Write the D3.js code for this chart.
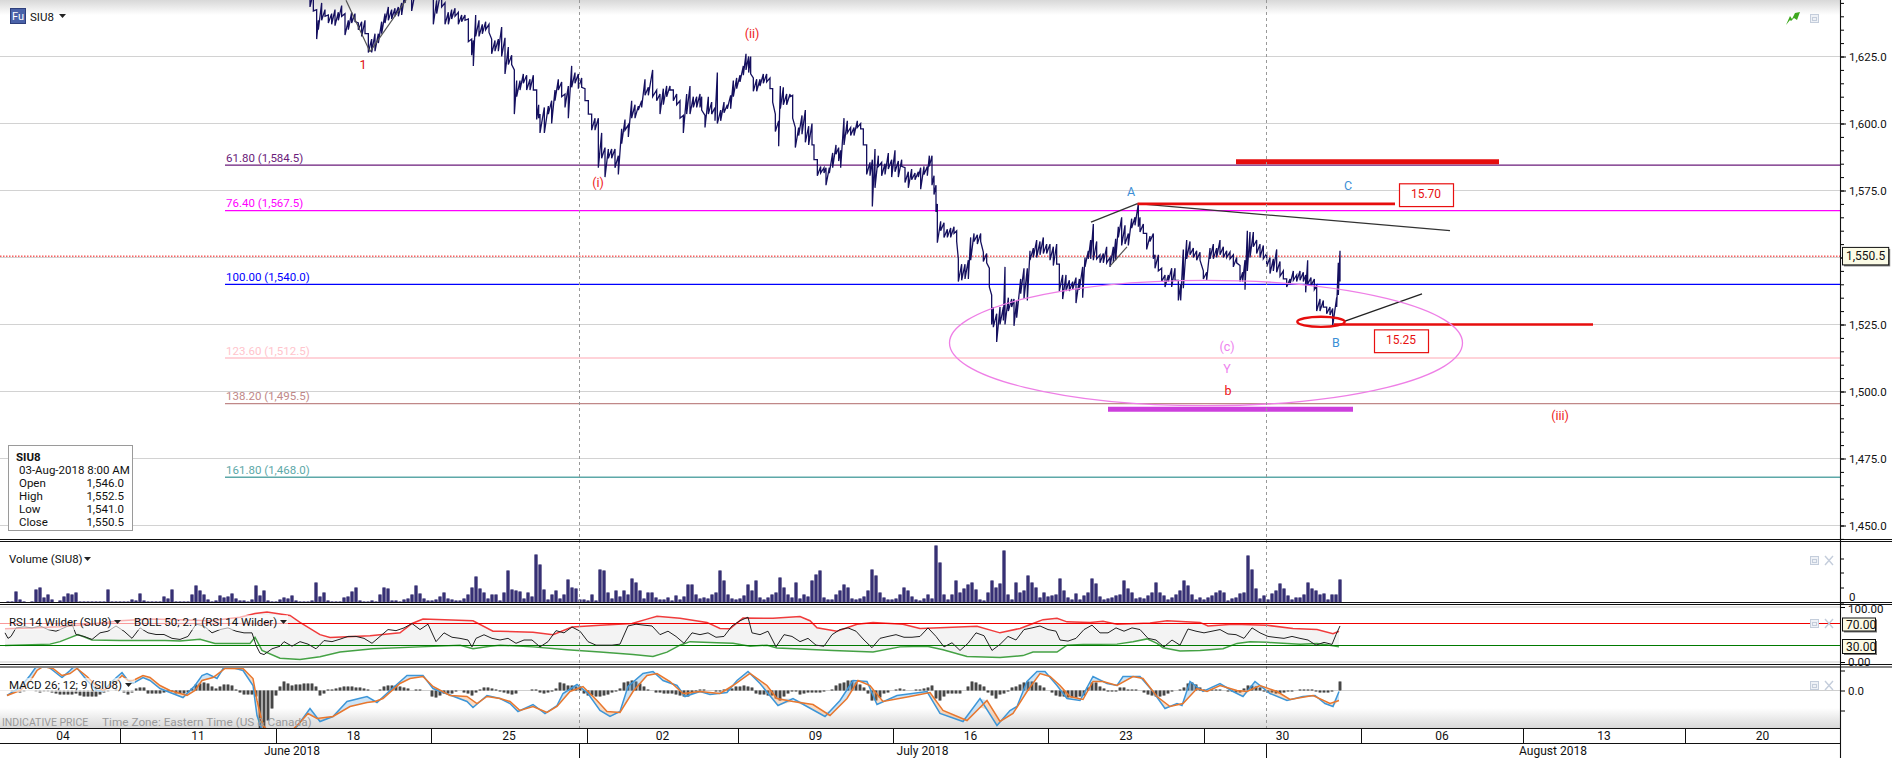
<!DOCTYPE html>
<html lang="en">
<head>
  <meta charset="UTF-8">
  <title>SIU8 chart</title>
  <script src="https://d3js.org/d3.v7.min.js"></script>
  <style>
    body, html { margin: 0; background: #fff; overflow: hidden; }
    svg { display: block; font-family: Roboto, sans-serif; font-size: 11.5px; }
    text { fill: #111; }
  </style>
</head>
<body>
<svg id="chart" width="1892" height="758"></svg>
<script>
  // price bars: [tick, low, high], ticks run 3 to a slot and start at slot 300
  const priceBars = [
    [30,1643.5,1649],[40,1642,1649],[50,1631.5,1642.5],[55,1635,1638.5],[65,1638.5,1645],[75,1640,1642.5],[85,1637.5,1640.5],[95,1637,1641],[105,1636.5,1642.5],[115,1638.5,1641.5],
    [125,1640,1644],[135,1633,1641],[145,1635,1638.5],[155,1637.5,1641.5],[165,1638,1641],[175,1635,1637.5],[185,1632.5,1638],[195,1633.5,1638.5],[205,1626.5,1633.5],[215,1626.5,1631.5],
    [225,1627,1633.5],[235,1630,1633.5],[245,1633.5,1638],[255,1637.5,1641],[265,1638.5,1643.5],[275,1639,1642.5],[285,1640,1643],[295,1640,1643.5],[305,1640.5,1645],[315,1645,1649],
    [325,1648,1652],[335,1642,1651],[355,1650,1655],[375,1650,1654],[400,1637,1651],[410,1641,1646],[425,1643.5,1651],[435,1637,1645],[445,1637,1641.5],[455,1639,1642.5],
    [465,1640,1643],[475,1637,1641.5],[485,1638,1640.5],[495,1638.5,1640.5],[505,1630.5,1639],[515,1625.5,1631.5],[520,1621.5,1631],[527,1632.5,1640.5],[537,1632.5,1638.5],[547,1633.5,1637],
    [557,1635,1638],[567,1634,1637],[575,1626,1631.5],[585,1627,1631],[595,1627,1631.5],[605,1625,1636],[615,1618.5,1632],[625,1622,1628.5],[635,1622,1625.5],[643,1603.5,1620],
    [650,1610,1616],[660,1612.5,1616],[670,1615,1618.5],[680,1612.5,1618],[690,1612.5,1616.5],[700,1612.5,1618],[710,1601.5,1612.5],[716,1602,1607],[720,1596.5,1603.5],[733,1596.5,1606],
    [745,1603.5,1606.5],[755,1600,1608.5],[765,1608.5,1612.5],[775,1612.5,1616.5],[785,1610,1615.5],[795,1606,1611],[805,1602,1614],[815,1613.5,1621.5],[825,1615,1619],[835,1613,1618.5],
    [845,1613.5,1617],[855,1608.5,1613],[865,1603.5,1608.5],[875,1597.5,1603.5],[885,1597.5,1602],[895,1583.5,1602],[905,1587,1596.5],[915,1580,1591],[925,1587,1590.5],[935,1587,1590.5],
    [945,1583.5,1590.5],[955,1581,1588],[965,1592.5,1598],[975,1597.5,1601.5],[985,1595,1599.5],[995,1602,1608.5],[1005,1602,1607],[1015,1605,1606.5],[1025,1606,1608.5],[1035,1610.5,1616.5],
    [1045,1610.5,1613.5],[1058,1610,1620],[1070,1608.5,1612.5],[1080,1603.5,1611],[1090,1607,1613],[1100,1610,1614],[1110,1612.5,1614],[1120,1608.5,1612.5],[1130,1607,1611],[1140,1602,1608.5],
    [1150,1596.5,1603],[1160,1603.5,1611],[1170,1603.5,1614],[1180,1606,1610],[1190,1606,1610],[1200,1606,1611],[1205,1605,1610],[1215,1598.5,1603],[1225,1603.5,1610],[1235,1603.5,1608],
    [1245,1601,1606],[1252,1600,1619],[1262,1601,1605],[1272,1604,1608],[1282,1605.5,1607],[1292,1605.5,1610.5],[1300,1610,1616],[1310,1613,1617],[1320,1615.5,1618],[1330,1618,1621.5],
    [1338,1620,1626],[1346,1619,1625],[1352,1618.5,1625],[1360,1612,1617],[1370,1612,1616.5],[1380,1614,1616.5],[1390,1615,1618.5],[1400,1615.5,1618.5],[1410,1613,1617],[1418,1608,1613],
    [1426,1597,1603.5],[1436,1591.5,1601],[1441,1605.5,1614],[1450,1607,1613.5],[1460,1607,1611],[1470,1610,1611],[1478,1602,1610.5],[1486,1591,1598.5],[1496,1595.5,1598.5],[1506,1596,1603],
    [1516,1593,1605],[1526,1592,1599],[1536,1592,1600],[1542,1586.5,1592],[1552,1580.5,1586.5],[1562,1581.5,1584],[1572,1581.5,1583.5],[1578,1577,1583.5],[1588,1581.5,1583.5],[1598,1583.5,1589],
    [1608,1588.5,1592],[1616,1586,1591],[1622,1583.5,1590],[1632,1592,1602],[1642,1596.5,1601],[1652,1595.5,1598.5],[1662,1595.5,1598.5],[1672,1598.5,1601],[1682,1598,1600],[1690,1592,1598],
    [1700,1581,1592],[1710,1580.5,1585.5],[1717,1569,1586.5],[1725,1576,1590.5],[1735,1584,1588],[1745,1580.5,1585.5],[1755,1581,1585],[1765,1583,1589],[1775,1580,1586.5],[1785,1582,1590],
    [1795,1580,1586],[1805,1584,1586.5],[1815,1578,1583.5],[1825,1576,1582],[1835,1579,1583],[1845,1579,1581.5],[1855,1580,1582],[1862,1575.5,1583.5],[1872,1581,1584],[1882,1580.5,1584],
    [1888,1584,1588],[1896,1577,1588],[1902,1573.5,1580.5],[1908,1567,1577],[1912,1555.5,1570],[1922,1560,1563.5],[1932,1557.5,1563],[1942,1557.5,1560.5],[1952,1557.5,1561],[1962,1559,1561.5],
    [1970,1556,1560],[1975,1541,1549.5],[1985,1541.5,1547.5],[1995,1542,1547.5],[2005,1542,1549],[2012,1549,1557.5],[2022,1556,1559],[2032,1555,1558.5],[2042,1556,1559],[2050,1548.5,1552],
    [2060,1548,1551.5],[2068,1539,1546],[2075,1525,1536],[2080,1524,1531.5],[2090,1518.5,1529],[2100,1525,1531.5],[2110,1526.5,1531.5],[2115,1525,1546.5],[2125,1530,1535],[2135,1531.5,1534.5],
    [2142,1524.5,1534.5],[2150,1527.5,1534],[2162,1536.5,1542],[2172,1534.5,1546],[2182,1534,1546],[2190,1549,1552.5],[2200,1550,1553.5],[2210,1550,1556.5],[2220,1551,1556],[2230,1551.5,1557.5],
    [2240,1551.5,1555],[2250,1549,1555],[2260,1547,1554],[2270,1547.5,1555],[2278,1537.5,1547.5],[2288,1534.5,1543.5],[2298,1537.5,1543.5],[2308,1537.5,1541.5],[2318,1538,1541],[2328,1533,1542.5],
    [2338,1538,1542],[2348,1535,1546.5],[2355,1546.5,1550],[2365,1549.5,1552.5],[2372,1549.5,1556.5],[2380,1549,1562.5],[2390,1549.5,1556],[2400,1548,1551],[2410,1548,1551.5],[2420,1548,1554],
    [2430,1546.5,1550],[2440,1548,1554],[2447,1549,1557],[2455,1557.5,1561.5],[2465,1554.5,1565],[2475,1555,1562],[2485,1554.5,1559],[2495,1561,1564.5],[2505,1562,1565],[2515,1561.5,1570],
    [2520,1559.5,1565],[2530,1559,1562.5],[2540,1553,1559],[2550,1556,1558],[2560,1549.5,1559],[2565,1546,1551],[2575,1545,1551],[2585,1541,1546],[2595,1539,1543.5],[2605,1541,1543.5],
    [2615,1539,1546],[2625,1541.5,1546],[2635,1534,1541.5],[2642,1534,1540],[2650,1538.5,1553],[2660,1549.5,1556.5],[2670,1551,1556],[2680,1550,1553.5],[2690,1549,1552.5],[2700,1549,1552],
    [2710,1542,1545],[2720,1541.5,1544.5],[2730,1549.5,1553.5],[2740,1549.5,1555],[2750,1550,1553.5],[2760,1551,1556.5],[2770,1550,1554],[2780,1550,1552.5],[2790,1549.5,1552],[2800,1546.5,1551],
    [2810,1548,1550],[2820,1541,1547],[2828,1541,1544.5],[2835,1538,1549],[2842,1545,1560],[2850,1550,1559.5],[2860,1554,1559.5],[2870,1551.5,1556.5],[2880,1550,1555],[2890,1549.5,1554.5],
    [2900,1546.5,1551.5],[2910,1544,1550],[2920,1545,1549.5],[2930,1544.5,1553],[2940,1543,1548.5],[2950,1542,1545],[2960,1539,1542],[2970,1540,1542],[2980,1541.5,1545],[2990,1541,1543.5],
    [3000,1541.5,1545],[3010,1541,1544.5],[3017,1537,1543.5],[3023,1540,1549],[3033,1539.5,1542.5],[3043,1538,1542],[3050,1530,1539.5],[3060,1530,1534.5],[3070,1531.5,1534],[3080,1529,1531.5],
    [3090,1528.5,1531.5],[3098,1524.5,1531],[3110,1531.5,1535],[3115,1536,1548],[3120,1541,1552.5]
  ];

  // one volume and one histogram value every 4 slots, starting at slot 8
  const volumeValues = [
    1,1,11,3,1,0,1,13,15,5,8,3,0,2,6,9,8,10,1,1,1,1,1,1,1,13,1,1,1,
    1,1,3,2,9,2,1,1,1,1,6,4,13,1,1,1,1,8,17,12,8,3,1,2,7,5,6,9,4,2,
    2,1,3,17,7,12,2,1,1,3,5,4,7,2,1,1,1,2,20,6,10,2,1,1,1,5,6,11,15,2,
    1,1,2,1,8,15,14,2,2,1,3,4,8,17,9,4,2,2,3,6,10,4,3,2,2,4,8,15,26,14,
    10,4,8,8,
    2,10,32,13,12,11,4,10,6,48,38,13,3,8,12,4,8,23,15,14,3,3,2,8,2,33,32,10,4,12,6,12,8,24,20,12,4,10,10,5,
    3,3,5,2,7,3,6,18,18,8,4,5,4,8,10,32,22,8,4,3,4,7,18,12,22,5,3,5,8,10,25,15,8,5,20,4,8,6,22,28,
    32,5,3,3,8,12,18,15,4,3,4,6,12,33,27,10,5,3,3,4,8,15,12,6,3,2,4,8,4,57,40,8,3,8,22,10,14,18,20,13,
    3,2,10,22,15,
    19,52,8,3,20,10,12,27,20,15,5,10,6,7,8,24,12,5,3,9,3,7,10,24,19,6,3,4,5,7,8,22,14,10,4,5,4,7,10,20,
    10,7,3,5,8,12,22,17,8,3,5,3,5,7,10,12,10,2,4,5,9,10,47,33,14,4,7,3,9,12,19,14,7,3,5,5,8,20,14,12,
    8,9,3,8,8,23
  ];
  const macdHist = [
    0,-1,-1,-2,-1,0,0,-1,-2,-1,-1,-2,-3,-4,-4,-4,-4,-3,-5,-6,-6,-6,-6,-4,-2,-1,0,1,0,
    -2,-4,-2,2,3,3,-3,-3,-3,-3,-2,-1,-1,-3,-3,-3,-2,2,6,7,8,7,4,2,4,6,6,5,1,-2,
    -4,-4,-4,-6,-38,-38,-30,-18,-5,4,9,7,5,6,6,7,7,7,4,-5,-3,1,1,2,3,4,4,4,3,3,
    2,1,0,0,1,4,5,5,5,4,3,2,0,1,1,0,0,-6,-7,-5,-3,-3,-3,-1,0,-2,-3,-5,-2,1,
    3,3,2,1,
    -1,-2,-3,-4,-3,0,0,0,1,1,-2,-3,-2,-1,2,8,7,5,5,4,4,-3,-5,-5,-6,-6,-5,-4,-2,-1,2,8,9,10,9,7,4,1,0,-2,
    -2,-3,-3,-3,-4,-5,-6,-6,-3,-1,1,1,0,0,-1,-1,1,1,2,4,4,5,4,3,-3,-4,-4,-5,-5,-8,-10,-6,-3,-1,-1,-4,-3,-2,-2,-2,
    -2,-1,0,1,5,7,8,10,10,8,6,3,-3,-10,-10,-7,-3,-2,0,1,2,1,0,0,1,1,2,3,5,-8,-10,-6,-3,-3,-3,-3,0,4,9,8,
    6,4,-2,-5,-8,
    -4,-3,-1,3,4,6,8,9,9,8,5,3,0,-2,-5,-6,-6,-7,-7,-7,-6,-5,3,8,8,4,2,-1,-1,-1,3,3,1,1,1,0,-2,-4,-5,-6,
    -6,-5,-3,-1,0,1,3,7,8,6,3,1,0,1,1,1,0,-1,-1,-2,-2,2,5,5,4,3,-1,-2,-2,-3,-3,-2,-1,-1,0,1,1,1,1,-1,
    -2,-2,-2,-1,0,9
  ];

  const rsiLine = [
    [5,53],[8,43],[11,46.5],[16,62],[24,64],[32,62],[40,65.5],[48,59],[56,56],[64,62],[72,68.7],[76,50],[84,46.5],[92,41],[100,53],[108,56],[116,65.5],[124,56],[132,43],[140,62],
    [148,53],[156,50],[164,50],[172,43],[180,41],[188,46.5],[196,68.7],[204,65.5],[212,53],[220,59],[228,62],[236,56],[244,53],[252,53],[256,30.5],[260,16],[264,13.5],[272,24],[280,28.7],[284,37],
    [292,28.7],[300,37],[308,32.5],[316,24],[324,39],[332,37],[340,41.5],[348,46.5],[356,46.5],[364,43],[372,34],[380,46.5],[388,59],[396,57],[404,62],[412,70],[420,59],[428,68.7],[436,37],[444,53],
    [452,45],[460,43],[468,40],[472,27.5],[476,43],[484,49.5],[492,43],[500,40],[508,43],[516,34],[524,40],[532,40],[540,27.5],[548,37],[556,57],[564,53],[572,63.6],[580,56],[588,37],[596,30.6],
    [604,30.6],[612,30.6],[620,32.5],[628,65.5],[636,68.7],[644,67],[652,65.5],[660,49.7],[668,56],[676,46.5],[684,34],[692,53],[700,49.7],[708,53],[716,45],[724,46.5],[732,65.5],[740,75],[748,81.5],[752,53],
    [760,49.7],[768,56],[776,27.5],[784,49.7],[792,46.5],[800,37],[808,43],[816,30.6],[824,28.7],[832,49.7],[840,59],[848,62],[856,56],[864,40],[872,26],[880,43],[888,46.5],[896,49.7],[904,45],[912,45],
    [920,46.5],[928,62],[936,46.5],[944,27.5],[952,35],[960,21],[968,34],[976,53],[984,47.8],[992,21],[1000,32],[1008,46.5],[1016,40],[1024,59],[1032,62],[1040,65.5],[1048,59],[1056,56],[1060,40],[1068,38],
    [1076,43],[1084,59],[1092,67],[1100,53],[1108,53],[1116,62],[1124,56],[1132,62],[1140,59],[1148,43],[1156,40],[1164,27.5],[1172,40],[1180,30.6],[1188,60],[1196,56],[1204,53],[1212,56],[1220,59],[1228,51],
    [1236,49.7],[1244,43],[1252,62],[1260,53],[1268,46.5],[1276,44.6],[1284,43],[1292,46.5],[1300,43],[1308,40],[1316,30.6],[1324,35.7],[1332,32],[1336,49.7],[1340,65.5]
  ];
  const bollUpper = [
    [5,60.5],[30,62],[60,64],[90,68.7],[120,75],[150,78],[180,77],[210,75],[240,81.5],[255,88],[267,91],[290,84.6],[300,72],[320,49.7],[330,44.6],[370,47.8],[400,53],[412,70],[423,78],[473,75],[493,56],
    [500,56],[533,54],[553,49.7],[572,63.6],[600,66.8],[632,70],[647,78],[657,83],[680,79.5],[707,72],[720,61],[730,60.5],[743,80],[773,79.5],[800,82.7],[810,75],[817,62.4],[837,56],[857,68.7],[873,72],
    [903,68.7],[920,61],[940,62.4],[977,65],[1000,53],[1020,61],[1033,70],[1043,77],[1057,79.5],[1067,73],[1090,72],[1103,74],[1117,68.7],[1150,71],[1167,75],[1200,72],[1208,65.5],[1233,68.7],[1267,66.8],
    [1293,61],[1317,59],[1333,51.6],[1339,56]
  ];
  const bollLower = [
    [5,30],[50,32.5],[60,37],[78,49.7],[92,40],[120,39],[165,39],[180,38],[200,41.4],[215,33.8],[250,33.8],[255,45],[262,21],[280,7],[300,4.6],[320,9.7],[340,18],[373,24],[420,27.5],[460,30.6],[473,24],[490,28.7],
    [500,30.6],[533,27.5],[567,22.4],[600,18],[633,13.5],[653,10],[667,18],[680,30.6],[690,37],[717,35],[733,34],[750,28.7],[767,30.6],[777,25.6],[800,23.7],[833,21],[873,18],[900,27.5],[927,28.7],[943,22.4],
    [967,10],[1000,8.4],[1023,11.6],[1033,18],[1057,18],[1067,30.6],[1083,32],[1117,32.5],[1133,37],[1147,42],[1157,33.8],[1163,26],[1180,20],[1200,21],[1223,24],[1237,33.8],[1250,37],[1267,35.7],[1300,32.5],
    [1317,33.8],[1333,29.4],[1339,27.5]
  ];

  const macdBlue = [
    [7,-5],[20,3],[30,15],[37,25],[43,28],[53,20],[62,13],[70,20],[75,25],[87,10],[97,0],[103,-1],[113,10],[122,18],[128,10],[133,7],[143,13],[150,10],[160,2],[170,-2],[183,-7],[195,5],[202,15],[207,17],[217,12],
    [225,25],[243,20],[253,5],[257,-25],[262,-40],[285,-45],[297,-36],[310,-18],[320,-31],[333,-26],[347,-11],[367,-6],[377,-12],[390,0],[407,15],[423,15],[433,2],[467,-11],[473,-17],[487,-5],
    [500,-8],[510,-13],[518,-21],[533,-14],[545,-23],[557,-15],[563,-3],[577,6],[588,-3],[600,-20],[610,-26],[620,-21],[628,4],[643,17],[653,19],[663,10],[677,5],[685,-6],[700,-1],[710,-4],[727,-2],[737,10],
    [748,19],[760,7],[778,-15],[793,-8],[807,-16],[825,-26],[840,-10],[853,10],[867,9],[877,-14],[897,-5],[927,-1],[940,-23],[963,-31],[980,-8],[997,-35],
    [1010,-20],[1017,-16],[1027,9],[1037,19],[1045,19],[1057,5],[1067,-8],[1080,-10],[1093,14],[1107,7],[1117,5],[1123,14],[1140,14],[1153,-1],[1165,-18],[1177,-13],[1182,-15],[1190,9],[1203,-1],[1220,7],
    [1233,-1],[1243,-6],[1255,9],[1270,-3],[1287,-10],[1303,-6],[1315,-5],[1325,-13],[1333,-16],[1339,-1]
  ];
  const macdOrange = [
    [7,-5],[20,0],[30,9],[37,20],[43,24],[53,22],[62,15],[70,17],[77,22],[87,14],[97,4],[103,0],[113,5],[122,15],[128,10],[133,10],[143,15],[150,13],[160,5],[170,0],[187,-5],[195,0],[202,10],[213,13],[225,22],
    [243,22],[253,12],[257,-10],[263,-35],[268,-40],[290,-42],[300,-32],[308,-23],[317,-28],[333,-26],[350,-16],[367,-12],[375,-11],[383,-8],[400,7],[410,12],[423,14],[433,4],[450,-5],[467,-6],[477,-13],[487,-6],
    [500,-8],[510,-11],[520,-20],[533,-16],[547,-22],[557,-16],[570,-1],[583,4],[597,-10],[607,-21],[620,-22],[633,-1],[647,15],[657,17],[670,9],[683,-3],[700,-1],[720,-3],[733,5],[750,17],[767,5],[777,-8],
    [793,-11],[813,-14],[830,-25],[847,-8],[858,10],[870,5],[883,-11],[910,-6],[930,-2],[943,-20],[967,-30],[987,-10],[1000,-31],
    [1013,-23],[1027,-1],[1040,17],[1050,14],[1060,5],[1070,-6],[1083,-9],[1093,9],[1103,9],[1117,5],[1133,14],[1143,12],[1157,-6],[1170,-16],[1183,-13],[1197,2],[1207,-1],[1220,5],[1237,0],[1247,-1],
    [1260,5],[1277,-1],[1290,-9],[1313,-5],[1330,-13],[1339,-10]
  ];

  const gridPrices = d3.range(1450, 1650, 25);
  const fibLevels = [61.8, 76.4, 100, 123.6, 138.2, 161.8];
  const fibPrices = [1584.5, 1567.5, 1540, 1512.5, 1495.5, 1468];
  const fibColors = ["#6a1b7a", "#ff00ff", "#0000ff", "#ffc4cc", "#c08888", "#5da8a8"];
  const fibStart = 225;
  const lastPrice = 1550.5;

  const weekLabels = ["04", "11", "18", "25", "02", "09", "16", "23", "30", "06", "13", "20"];
  const weekEdges = [6, 120, 276, 431, 587, 738, 893, 1048, 1204, 1361, 1523, 1685, 1840];
  const monthLabels = ["June 2018", "July 2018", "August 2018"];
  const monthEdges = [5, 579, 1266, 1840];

  const infoRows = [["Open", "1,546.0"], ["High", "1,552.5"], ["Low", "1,541.0"], ["Close", "1,550.5"]];

  // wave labels: [text, slot, price, colour]
  const waveLabels = [
    ["1", 363, 1621.5, "#e01010"], ["(i)", 598, 1577.5, "#ee2222"], ["(ii)", 752, 1633, "#ee2222"],
    ["A", 1131, 1574, "#3c8fd6"], ["C", 1348, 1576.5, "#3c8fd6"], ["B", 1336, 1518, "#3c8fd6"],
    ["(c)", 1227, 1516.5, "#ee82ee"], ["Y", 1227, 1508, "#ee82ee"], ["b", 1228, 1500, "#ee1111"],
    ["(iii)", 1560, 1490.5, "#ee2222"]
  ];
  // trend lines: [slot1, price1, slot2, price2, width, colour]
  const trendLines = [
    [346, 1646, 370, 1626.8, 1.2, "#555"], [370, 1626.8, 406, 1646, 1.2, "#555"],
    [1091, 1563.2, 1137.5, 1570.1, 1.3, "#333"], [1137.5, 1570.1, 1450, 1560, 1.3, "#333"],
    [1110, 1546.8, 1127, 1554, 1.2, "#555"], [1345, 1526.3, 1422, 1536.4, 1.3, "#222"],
    [1236, 1585.7, 1499, 1585.7, 5, "#e60d0d"], [1137.5, 1570, 1395, 1570, 2.6, "#e60d0d"],
    [1334, 1525, 1593, 1525, 2.6, "#e60d0d"], [1108, 1493.4, 1353, 1493.4, 5, "#cc3fdc"]
  ];
  // ellipses: [slot, price, slot radius, price radius, width, colour]
  const ellipses = [
    [1206, 1518.1, 256.5, 23.4, 1.3, "#ee7fe6"], [1321, 1526, 23.7, 1.9, 2.4, "#e60d0d"]
  ];
  // red note boxes: [text, slot1, slot2, price1, price2]
  const noteBoxes = [["15.70", 1399, 1453, 1577.5, 1569], ["15.25", 1374, 1428, 1523, 1514.5]];

  const svg = d3.select("#chart");
  const defs = svg.append("defs");

  const x = d3.scaleLinear().domain([0, 1840]).range([0, 1840]);
  const yPrice = d3.scaleLinear().domain([1625, 1450]).range([56.5, 525.5]);
  const yVol = d3.scaleLinear().domain([0, 62]).range([602.5, 540.5]);
  const yRsi = d3.scaleLinear().domain([0, 100]).range([662, 607]);
  const yMacd = d3.scaleLinear().domain([-38, 22]).range([728.5, 668.5]);
  const tickSlot = t => 300 + t / 3;

  const fadeTop = defs.append("linearGradient").attr("id", "fadeTop").attr("x2", 0).attr("y2", 1);
  fadeTop.append("stop").attr("offset", 0).attr("stop-color", "#d8d8d8");
  fadeTop.append("stop").attr("offset", 1).attr("stop-color", "#fff");
  const fadeBottom = defs.append("linearGradient").attr("id", "fadeBottom").attr("x2", 0).attr("y2", 1);
  fadeBottom.append("stop").attr("offset", 0).attr("stop-color", "#fff");
  fadeBottom.append("stop").attr("offset", 1).attr("stop-color", "#d8d8d8");

  const clipRect = (id, top, bottom) => defs.append("clipPath").attr("id", id)
          .append("rect").attr("x", 0).attr("y", top).attr("width", 1840).attr("height", bottom - top);
  clipRect("clipMain", 0, 538);
  clipRect("clipRsi", 605, 664);
  clipRect("clipMacd", 668, 728);

  svg.append("rect").attr("width", 1840).attr("height", 15).attr("fill", "url(#fadeTop)");
  svg.append("rect").attr("y", 708).attr("width", 1840).attr("height", 20).attr("fill", "url(#fadeBottom)");

  // ---- main panel ----
  const main = svg.append("g").attr("clip-path", "url(#clipMain)");

  main.selectAll(".grid").data(gridPrices).join("line")
          .attr("x1", 0).attr("x2", x(1840))
          .attr("y1", d => yPrice(d)).attr("y2", d => yPrice(d))
          .attr("stroke", "#d2d2d2").attr("stroke-width", 1);

  fibPrices.forEach((p, i) => {
    main.append("line")
            .attr("x1", x(fibStart)).attr("x2", x(1840))
            .attr("y1", yPrice(p)).attr("y2", yPrice(p))
            .attr("stroke", fibColors[i]).attr("stroke-width", 1.3);
    main.append("text")
            .attr("x", x(fibStart) + 1).attr("y", yPrice(p) - 3.5)
            .style("fill", fibColors[i]).style("font-size", "11.5px")
            .text(`${fibLevels[i].toFixed(2)} (${d3.format(",.1f")(p)})`);
  });

  main.append("line")
          .attr("x1", 0).attr("x2", x(1840))
          .attr("y1", yPrice(lastPrice)).attr("y2", yPrice(lastPrice))
          .attr("stroke", "#f01010").attr("stroke-width", 1).attr("stroke-dasharray", "1.5,1.5");

  // every bar runs high to low, then the line jumps to the next high
  const pricePoints = priceBars.flatMap(([t, lo, hi]) => [[tickSlot(t), hi], [tickSlot(t), lo]]);
  const priceLine = d3.line().x(d => x(d[0])).y(d => yPrice(d[1]));
  main.append("path").datum(pricePoints)
          .attr("d", priceLine)
          .attr("fill", "none").attr("stroke", "#15105f").attr("stroke-width", 1.3);

  main.selectAll(".trend").data(trendLines).join("line")
          .attr("x1", d => x(d[0])).attr("y1", d => yPrice(d[1]))
          .attr("x2", d => x(d[2])).attr("y2", d => yPrice(d[3]))
          .attr("stroke-width", d => d[4]).attr("stroke", d => d[5]);

  main.selectAll(".oval").data(ellipses).join("ellipse")
          .attr("cx", d => x(d[0])).attr("cy", d => yPrice(d[1]))
          .attr("rx", d => x(d[0] + d[2]) - x(d[0]))
          .attr("ry", d => yPrice(d[1] - d[3]) - yPrice(d[1]))
          .attr("fill", "none").attr("stroke-width", d => d[4]).attr("stroke", d => d[5]);

  main.selectAll(".wave").data(waveLabels).join("text")
          .attr("x", d => x(d[1])).attr("y", d => yPrice(d[2]))
          .attr("text-anchor", "middle").attr("dominant-baseline", "middle")
          .style("fill", d => d[3]).style("font-size", "12.5px").text(d => d[0]);

  noteBoxes.forEach(([label, s1, s2, p1, p2]) => {
    main.append("rect")
            .attr("x", x(s1) + 0.5).attr("y", yPrice(p1))
            .attr("width", x(s2) - x(s1)).attr("height", yPrice(p2) - yPrice(p1))
            .attr("fill", "#fff").attr("stroke", "#e81010").attr("stroke-width", 1.2);
    main.append("text")
            .attr("x", (x(s1) + x(s2)) / 2).attr("y", (yPrice(p1) + yPrice(p2)) / 2)
            .attr("text-anchor", "middle").attr("dominant-baseline", "middle")
            .style("fill", "#e81010").style("font-size", "12px").text(label);
  });

  // ---- volume ----
  const volume = svg.append("g");
  volumeValues.forEach((v, i) => {
    const s = 8 + i * 4;
    volume.append("rect")
            .attr("x", x(s) - 2).attr("y", yVol(v))
            .attr("width", 4).attr("height", yVol(0) - yVol(v))
            .attr("fill", "#79749f");
    volume.append("line")
            .attr("x1", x(s)).attr("x2", x(s))
            .attr("y1", yVol(v)).attr("y2", yVol(0))
            .attr("stroke", "#1a1464").attr("stroke-width", 1.4);
  });

  // ---- RSI ----
  const rsi = svg.append("g").attr("clip-path", "url(#clipRsi)");
  [100, 0].forEach(v => rsi.append("line")
          .attr("x1", 0).attr("x2", x(1840)).attr("y1", yRsi(v)).attr("y2", yRsi(v))
          .attr("stroke", "#cfcfcf"));

  const upperAt = d3.scaleLinear().domain(bollUpper.map(d => d[0])).range(bollUpper.map(d => d[1]));
  const lowerAt = d3.scaleLinear().domain(bollLower.map(d => d[0])).range(bollLower.map(d => d[1]));
  const bandSlots = d3.sort(new Set([...bollUpper, ...bollLower].map(d => d[0])));
  rsi.append("path").datum(bandSlots)
          .attr("d", d3.area().x(d => x(d)).y0(d => yRsi(lowerAt(d))).y1(d => yRsi(upperAt(d))))
          .attr("fill", "#f3f3f3");

  const rsiPath = d3.line().x(d => x(d[0])).y(d => yRsi(d[1]));
  rsi.append("path").datum(bollUpper).attr("d", rsiPath)
          .attr("fill", "none").attr("stroke", "#ee1a1a").attr("stroke-width", 1.5).attr("opacity", 0.85);
  rsi.append("path").datum(bollLower).attr("d", rsiPath)
          .attr("fill", "none").attr("stroke", "#249224").attr("stroke-width", 1.5).attr("opacity", 0.85);
  rsi.append("line").attr("x1", 0).attr("x2", x(1840)).attr("y1", yRsi(70)).attr("y2", yRsi(70))
          .attr("stroke", "#f00000").attr("stroke-width", 1.2);
  rsi.append("line").attr("x1", 0).attr("x2", x(1840)).attr("y1", yRsi(30)).attr("y2", yRsi(30))
          .attr("stroke", "#007a00").attr("stroke-width", 1.2);
  rsi.append("path").datum(rsiLine).attr("d", rsiPath)
          .attr("fill", "none").attr("stroke", "#222").attr("stroke-width", 1);

  // ---- MACD ----
  const macd = svg.append("g").attr("clip-path", "url(#clipMacd)");
  macd.append("line").attr("x1", 0).attr("x2", x(1840)).attr("y1", yMacd(0)).attr("y2", yMacd(0))
          .attr("stroke", "#cfcfcf");

  macdHist.forEach((v, i) => {
    const s = 8 + i * 4;
    macd.append("rect")
            .attr("x", x(s) - 2).attr("width", 4)
            .attr("y", Math.min(yMacd(v), yMacd(0))).attr("height", Math.abs(yMacd(v) - yMacd(0)))
            .attr("fill", "#a8a8a8");
    macd.append("line")
            .attr("x1", x(s)).attr("x2", x(s)).attr("y1", yMacd(v)).attr("y2", yMacd(0))
            .attr("stroke", "#111").attr("stroke-width", 1.3);
  });

  const blueAt = d3.scaleLinear().domain(macdBlue.map(d => d[0])).range(macdBlue.map(d => d[1]));
  const orangeAt = d3.scaleLinear().domain(macdOrange.map(d => d[0])).range(macdOrange.map(d => d[1]));
  const fillSlots = d3.sort(new Set([...macdBlue, ...macdOrange].map(d => d[0])));
  macd.append("path").datum(fillSlots)
          .attr("d", d3.area().x(d => x(d)).y0(d => yMacd(orangeAt(d)))
                  .y1(d => yMacd(Math.max(orangeAt(d), blueAt(d)))))
          .attr("fill", "#5aa7e0").attr("opacity", 0.3);
  macd.append("path").datum(fillSlots)
          .attr("d", d3.area().x(d => x(d)).y0(d => yMacd(orangeAt(d)))
                  .y1(d => yMacd(Math.min(orangeAt(d), blueAt(d)))))
          .attr("fill", "#f08a3c").attr("opacity", 0.3);

  const macdPath = d3.line().x(d => x(d[0])).y(d => yMacd(d[1]));
  macd.append("path").datum(macdBlue).attr("d", macdPath)
          .attr("fill", "none").attr("stroke", "#3d96d8").attr("stroke-width", 1.5);
  macd.append("path").datum(macdOrange).attr("d", macdPath)
          .attr("fill", "none").attr("stroke", "#e8772e").attr("stroke-width", 1.5);

  // panel titles sit on a washed out strip
  svg.append("rect").attr("y", 615).attr("width", 288).attr("height", 15).attr("fill", "#fff").attr("opacity", 0.6);
  svg.append("rect").attr("y", 678).attr("width", 135).attr("height", 14).attr("fill", "#fff").attr("opacity", 0.6);

  const arrow = (px, py) => svg.append("path")
          .attr("d", `M${px},${py}h7l-3.5,4z`).attr("fill", "#222");
  svg.append("text").attr("x", 9).attr("y", 563).text("Volume (SIU8)");
  arrow(84, 557);
  svg.append("text").attr("x", 9).attr("y", 626).text("RSI 14 Wilder (SIU8)");
  arrow(114, 620);
  svg.append("text").attr("x", 134).attr("y", 626).text("BOLL 50; 2.1 (RSI 14 Wilder)");
  arrow(280, 620);
  svg.append("text").attr("x", 9).attr("y", 689).text("MACD 26; 12; 9 (SIU8)");
  arrow(125, 683);
  svg.append("text").attr("x", 2).attr("y", 726).style("fill", "#9a9a9a").style("font-size", "10.5px")
          .text("INDICATIVE PRICE");
  svg.append("text").attr("x", 102).attr("y", 726).style("fill", "#9a9a9a").style("font-size", "11.8px")
          .text("Time Zone: Eastern Time (US & Canada)");

  // vertical month markers
  [monthEdges[1], monthEdges[2]].forEach(s => svg.append("line")
          .attr("x1", x(s) + 0.5).attr("x2", x(s) + 0.5).attr("y1", 0).attr("y2", 728)
          .attr("stroke", "#999").attr("stroke-dasharray", "3,3"));

  // ---- top left symbol ----
  svg.append("rect").attr("x", 10.5).attr("y", 8.5).attr("width", 15).attr("height", 15)
          .attr("fill", "#4a62a8").attr("stroke", "#2e3f7c");
  svg.append("text").attr("x", 18).attr("y", 20).attr("text-anchor", "middle")
          .style("fill", "#fff").style("font-size", "11px").text("Fu");
  svg.append("text").attr("x", 30).attr("y", 21).text("SIU8");
  arrow(59, 14);

  // ---- top right icons ----
  svg.append("path").attr("d", "M1786,25l4,-9l2,3l3,-6l5,-1l-3,8l-3,-2l-3,3l-1,-1z").attr("fill", "#3ea81e");
  [[1810, 14], [1810, 556], [1810, 619], [1810, 681]].forEach(([px, py]) => {
    svg.append("rect").attr("x", px + 0.5).attr("y", py + 0.5).attr("width", 8).attr("height", 8)
            .attr("fill", "#eef1f6").attr("stroke", "#c4cddb");
    svg.append("rect").attr("x", px + 2.5).attr("y", py + 3.5).attr("width", 4).attr("height", 3)
            .attr("fill", "none").attr("stroke", "#c4cddb");
  });
  [556, 619, 681].forEach(py => svg.append("path")
          .attr("d", `M1825,${py}l8,9M1833,${py}l-8,9`).attr("stroke", "#c4cddb").attr("stroke-width", 1.4));

  // ---- info box ----
  svg.append("rect").attr("x", 8.5).attr("y", 445.5).attr("width", 124).attr("height", 85)
          .attr("fill", "#fff").attr("stroke", "#9a9a9a");
  svg.append("text").attr("x", 16).attr("y", 461).style("font-weight", "bold").text("SIU8");
  svg.append("text").attr("x", 19).attr("y", 474).text("03-Aug-2018 8:00 AM");
  infoRows.forEach(([name, val], i) => {
    svg.append("text").attr("x", 19).attr("y", 487 + i * 13).text(name);
    svg.append("text").attr("x", 124).attr("y", 487 + i * 13).attr("text-anchor", "end").text(val);
  });

  // ---- panel separators ----
  [539.5, 541.5, 602.5, 604.5, 664.5, 667].forEach(yy => svg.append("line")
          .attr("x1", 0).attr("x2", 1892).attr("y1", yy).attr("y2", yy)
          .attr("stroke", "#111").attr("stroke-width", 1.1));

  // ---- right axes ----
  const priceMinor = d3.axisRight(yPrice).tickValues(d3.range(1445, 1650, 5)).tickSize(4).tickFormat("");
  const priceMajor = d3.axisRight(yPrice).tickValues(d3.range(1450, 1650, 25)).tickSize(6).tickPadding(3)
          .tickFormat(d3.format(",.1f"));
  const axisMain = svg.append("g").attr("transform", `translate(${x(1840)},0)`);
  axisMain.append("g").call(priceMinor);
  axisMain.append("g").call(priceMajor);

  const volAxis = d3.axisRight(yVol).tickValues([0, 15, 30, 44]).tickSize(4).tickFormat("");
  const rsiAxis = d3.axisRight(yRsi).tickValues([0, 100]).tickSize(5).tickPadding(3).tickFormat(d3.format(".2f"));
  const macdAxis = d3.axisRight(yMacd).tickValues([-20, 0, 20]).tickSize(5).tickPadding(3)
          .tickFormat(d => d === 0 ? "0.0" : "");
  axisMain.append("g").call(volAxis);
  axisMain.append("g").call(rsiAxis).selectAll("text").attr("dy", d => d === 100 ? "0.45em" : "0.32em");
  axisMain.append("g").call(macdAxis);
  axisMain.selectAll("path.domain").remove();
  axisMain.selectAll("text").style("font-size", "11.5px").style("font-family", "Roboto, sans-serif");
  // the volume zero sits just above the separator
  axisMain.append("text").attr("x", 9).attr("y", 601).style("font-size", "11.5px").text("0");

  svg.append("line").attr("x1", x(1840) + 0.5).attr("x2", x(1840) + 0.5).attr("y1", 0).attr("y2", 758)
          .attr("stroke", "#111").attr("stroke-width", 1.1);

  const tag = (label, yy, h) => {
    svg.append("rect").attr("x", 1844).attr("y", yy - h / 2 + 1.5).attr("width", label.length * 6.6).attr("height", h).attr("fill", "#777");
    svg.append("rect").attr("x", 1842.5).attr("y", yy - h / 2).attr("width", label.length * 6.6).attr("height", h)
            .attr("fill", "#fbfbe6").attr("stroke", "#111");
    svg.append("text").attr("x", 1846).attr("y", yy + 4).style("font-size", "12px").text(label);
  };
  tag("1,550.5", yPrice(lastPrice), 17.5);
  tag("70.00", yRsi(70) + 1, 13);
  tag("30.00", yRsi(30) + 1, 14);

  // ---- date axis ----
  const dateAxis = svg.append("g");
  dateAxis.append("line").attr("x1", 0).attr("x2", x(1840)).attr("y1", 728.5).attr("y2", 728.5).attr("stroke", "#111");
  dateAxis.append("line").attr("x1", 0).attr("x2", x(1840)).attr("y1", 743.5).attr("y2", 743.5).attr("stroke", "#111");
  weekLabels.forEach((label, i) => {
    dateAxis.append("text")
            .attr("x", (x(weekEdges[i]) + x(weekEdges[i + 1])) / 2).attr("y", 740)
            .attr("text-anchor", "middle").style("font-size", "12px").text(label);
    if (i > 0) dateAxis.append("line")
            .attr("x1", x(weekEdges[i]) + 0.5).attr("x2", x(weekEdges[i]) + 0.5).attr("y1", 729).attr("y2", 743)
            .attr("stroke", "#111");
  });
  monthLabels.forEach((label, i) => {
    dateAxis.append("text")
            .attr("x", (x(monthEdges[i]) + x(monthEdges[i + 1])) / 2).attr("y", 755)
            .attr("text-anchor", "middle").style("font-size", "12px").text(label);
    if (i > 0) dateAxis.append("line")
            .attr("x1", x(monthEdges[i]) + 0.5).attr("x2", x(monthEdges[i]) + 0.5).attr("y1", 744).attr("y2", 758)
            .attr("stroke", "#111");
  });
</script>
</body>
</html>
